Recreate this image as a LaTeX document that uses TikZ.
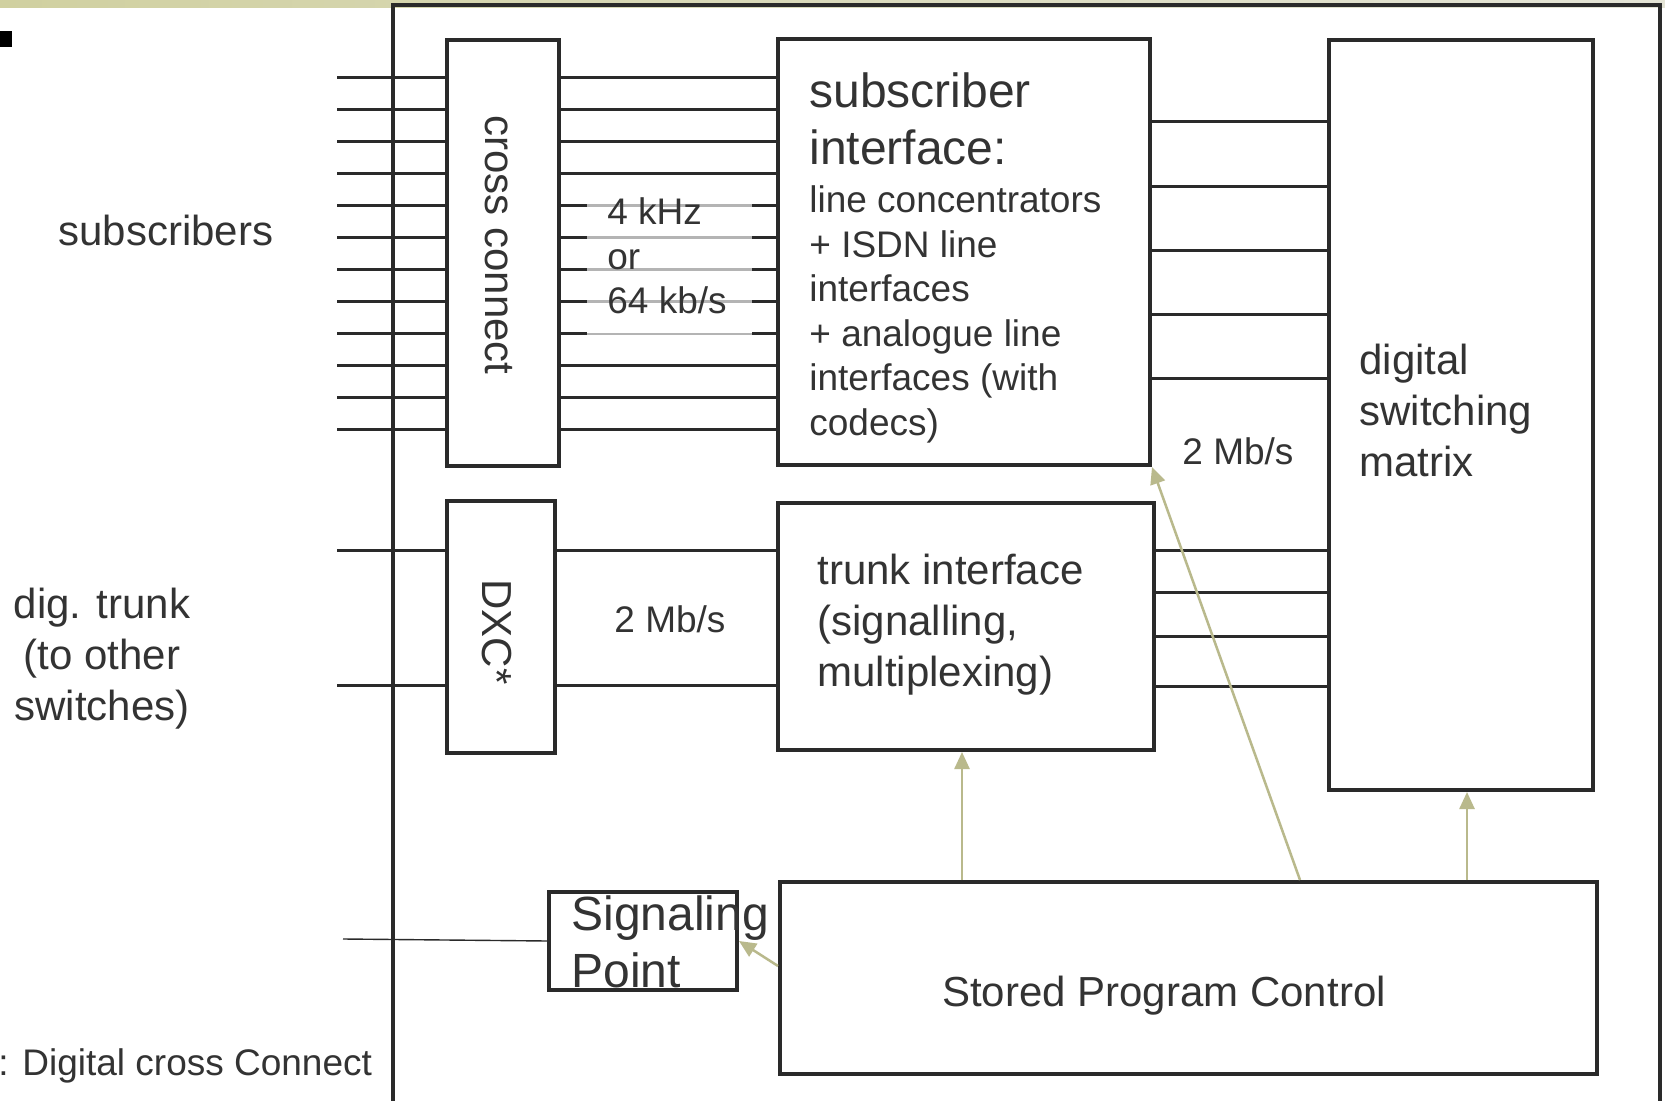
\documentclass[tikz,border=0pt]{standalone}
\usepackage{fontspec}
\setmainfont{Liberation Sans}
\usetikzlibrary{arrows.meta}
\definecolor{linegray}{RGB}{42,42,42}
\definecolor{textgray}{RGB}{51,51,51}
\definecolor{ctrlolive}{RGB}{185,185,140}
\definecolor{bandolive}{RGB}{208,208,160}
\definecolor{bandlight}{RGB}{228,228,214}
\definecolor{mutedgray}{RGB}{180,180,180}
\tikzset{
  box/.style={draw=linegray, line width=2pt, inner sep=0pt},
  wire/.style={draw=linegray, line width=1.5pt},
  mutedwire/.style={draw=mutedgray, line width=1.5pt},
  ctrl/.style={draw=ctrlolive, line width=1.25pt, -{Triangle[length=8.5pt,width=7.5pt]}},
  txtbig/.style={font=\fontsize{24pt}{28.5pt}\selectfont, text=textgray, inner sep=0pt},
  txtmid/.style={font=\fontsize{21pt}{25.5pt}\selectfont, text=textgray, inner sep=0pt},
  txtsmall/.style={font=\fontsize{18.5pt}{22.25pt}\selectfont, text=textgray, inner sep=0pt},
}
\begin{document}
\begin{tikzpicture}[x=0.5pt,y=-0.5pt]
\useasboundingbox (0,0) rectangle (1665,1101);
\fill[white] (0,0) rectangle (1665,1101);
% title band and bullet
\shade[left color=bandolive, right color=bandlight] (0,0) rectangle (1665,8);
\fill[black] (0,31) rectangle (12,47);
% exchange frame
\draw[linegray, line width=2pt] (393,1101) -- (393,5) -- (1660,5) -- (1660,1101);
% blocks
\node[box, minimum width=56pt, minimum height=213pt] (cc) at (503,253) {};
\node[box, minimum width=54pt, minimum height=126pt] (dxc) at (501,627) {};
\node[box, minimum width=186pt, minimum height=213pt] (si) at (964,252) {};
\node[box, minimum width=188pt, minimum height=123.5pt] (ti) at (966,626.5) {};
\node[box, minimum width=132pt, minimum height=375pt] (dsm) at (1461,415) {};
\node[box, minimum width=408.5pt, minimum height=96pt] (spc) at (1188.5,978) {};
\node[box, minimum width=94pt, minimum height=49pt] (sp) at (643,941) {};
% subscriber lines
\coordinate (lblL) at (587,0);
\coordinate (lblR) at (752,0);
\foreach \k in {0,...,11}{
  \coordinate (sub\k) at (337,78+32*\k);
  \draw[wire] (sub\k) -- (sub\k -| cc.west);
}
\foreach \k in {0,1,2,3,9,10,11}
  \draw[wire] (sub\k -| cc.east) -- (sub\k -| si.west);
\foreach \k in {4,...,8}{
  \draw[wire] (sub\k -| cc.east) -- (sub\k -| lblL);
  \draw[wire] (sub\k -| lblR) -- (sub\k -| si.west);
}
\foreach \k in {4,...,7}
  \draw[mutedwire] (sub\k -| lblL) -- (sub\k -| lblR);
\draw[mutedgray, line width=0.6pt] (sub8 -| lblL) -- (sub8 -| lblR);
% trunk lines
\coordinate (trk0) at (337,550);
\coordinate (trk1) at (337,685);
\foreach \k in {0,1}{
  \draw[wire] (trk\k) -- (trk\k -| dxc.west);
  \draw[wire] (trk\k -| dxc.east) -- (trk\k -| ti.west);
}
% 2 Mb/s links to the matrix
\foreach \y [count=\i] in {122,187,251,315,379}{
  \coordinate (sm\i) at (1240,\y);
  \draw[wire] (si.east |- sm\i) -- (dsm.west |- sm\i);
}
\foreach \y [count=\i] in {550,592,636,686}{
  \coordinate (tm\i) at (1240,\y);
  \draw[wire] (ti.east |- tm\i) -- (dsm.west |- tm\i);
}
% signalling link
\coordinate (spin) at (343,939);
\draw[linegray, line width=0.7pt] (spin) -- (sp.west);
% control arrows
\draw[ctrl] ([xshift=-2pt]spc.north -| ti.south) -- ([xshift=-2pt]ti.south);
\draw[ctrl] ([xshift=3pt]spc.north -| dsm.south) -- ([xshift=3pt]dsm.south);
\draw[ctrl] ([xshift=55.75pt]spc.north) -- (si.south east);
\draw[ctrl] ([yshift=6pt]spc.west) -- (sp.east);
% labels
\node[txtmid, rotate=-90] (cclbl) at (499,245) {cross connect};
\node[txtmid, rotate=-90] (dxclbl) at (497,632) {DXC*};
\node[txtbig, anchor=north west, align=left] (sititle) at (809,72.6) {subscriber\\interface:};
\node[txtsmall, anchor=north west, align=left] (sibody) at (809,185.5)
  {line concentrators\\+ ISDN line\\interfaces\\+ analogue line\\interfaces (with\\codecs)};
\node[txtsmall, anchor=north west, align=left] (ratelbl) at (607,197.5) {4 kHz\\or\\64 kb/s};
\node[txtsmall, anchor=base] (trkrate) at (670,632) {2 Mb/s};
\node[txtsmall, anchor=base] (dsmrate) at (1238,465) {2 Mb/s};
\node[txtmid, anchor=base] (sublbl) at (166,246) {subscribers};
\node[txtmid, anchor=north, align=center] (trklbl) at (102,588) {dig. trunk\\(to other\\switches)};
\node[txtmid, anchor=north west, align=left] (dsmlbl) at (1359,344) {digital\\switching\\matrix};
\node[txtmid, anchor=north west, align=left] (tilbl) at (817,554) {trunk interface\\(signalling,\\multiplexing)};
\node[txtmid, anchor=base] (spclbl) at (1164,1006) {Stored Program Control};
\node[txtbig, anchor=north west, align=left] (splbl) at (571,895) {Signaling\\Point};
\node[txtsmall, anchor=base west] (dxcnote) at (-2,1075) {: Digital cross Connect};
\end{tikzpicture}
\end{document}
